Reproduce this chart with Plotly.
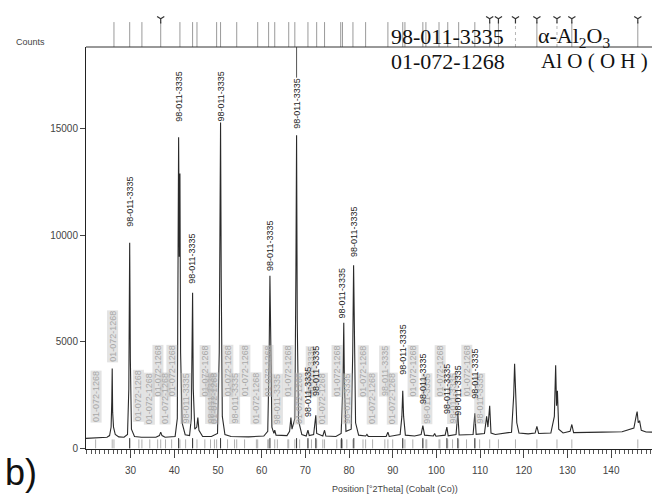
import plotly.graph_objects as go

# ---------------- data ----------------
profile = [
    (19.8, 470), (21.5, 490), (23.5, 500), (24.6, 520), (25.2, 600), (25.55, 1000),
    (25.7, 2200), (25.8, 3750), (25.9, 1700), (26.1, 1000), (26.5, 650), (27.3, 540),
    (28.5, 520), (29.3, 650), (29.6, 2800), (29.8, 9650), (29.95, 4200), (30.2, 900),
    (30.9, 560), (32.5, 520), (35.8, 520), (36.6, 600), (36.9, 760), (37.2, 600),
    (37.9, 520), (40.2, 560), (40.7, 1400), (40.9, 7500), (41.0, 14600), (41.15, 9000),
    (41.3, 12900), (41.45, 4500), (41.8, 1200), (42.5, 640), (43.5, 600), (43.9, 1400),
    (44.1, 5000), (44.2, 7300), (44.35, 2800), (44.7, 900), (45.15, 1000), (45.4, 1450),
    (45.65, 850), (46.5, 560), (48.5, 560), (49.9, 700), (50.3, 4500), (50.45, 9000),
    (50.6, 15300), (50.75, 8000), (51.0, 1500), (51.6, 650), (53.0, 560), (57.0, 540),
    (60.5, 580), (61.4, 800), (61.7, 4000), (61.9, 8100), (62.05, 4300), (62.35, 1000),
    (62.8, 700), (63.0, 850), (63.3, 620), (65.8, 600), (66.4, 800), (66.7, 1450),
    (66.95, 900), (67.6, 1400), (67.85, 8500), (68.0, 14700), (68.15, 6000), (68.45, 1300),
    (69.2, 650), (70.2, 580), (70.6, 850), (70.9, 600), (71.9, 650), (72.25, 1250),
    (72.4, 1550), (72.6, 700), (74.0, 580), (74.4, 850), (74.7, 580), (77.0, 560),
    (78.2, 700), (78.6, 3000), (78.8, 5900), (78.95, 3000), (79.3, 800), (80.5, 900),
    (80.85, 4500), (81.05, 8600), (81.2, 6200), (81.5, 1200), (82.2, 620), (83.8, 580),
    (84.1, 650), (84.4, 560), (88.5, 560), (88.9, 760), (89.2, 560), (91.7, 650),
    (92.1, 1500), (92.3, 2700), (92.5, 1500), (92.9, 620), (95.0, 580), (96.5, 650),
    (96.9, 1070), (97.3, 620), (99.3, 580), (99.6, 700), (99.9, 570), (102.0, 620),
    (102.4, 1000), (102.7, 590), (104.5, 650), (104.9, 1650), (105.2, 630), (108.4, 650),
    (108.8, 1650), (109.1, 660), (111.0, 700), (111.5, 1500), (111.8, 1000), (112.2, 2000),
    (112.5, 720), (113.5, 650), (117.2, 760), (117.7, 2500), (117.9, 3970), (118.1, 2400),
    (118.4, 1200), (118.9, 720), (121.0, 680), (122.6, 720), (123.0, 1030), (123.4, 700),
    (126.2, 720), (127.0, 1500), (127.3, 3900), (127.5, 2000), (127.7, 2700), (128.0, 900),
    (129.0, 720), (130.6, 800), (131.0, 1120), (131.4, 740), (134.0, 740), (138.0, 760),
    (142.5, 780), (145.2, 950), (145.8, 1600), (145.95, 1730), (146.2, 1200), (146.5, 1300),
    (146.9, 850), (148.0, 770), (149.35, 760),
]
two_theta = [p[0] for p in profile]
counts = [p[1] for p in profile]

# reference-pattern sticks in the top strip
ref_sticks = [26.2, 29.8, 32.6, 36.9, 41.3, 44.2, 45.2, 49.7, 50.6, 54.3, 59.1, 61.6,
              63.0, 66.2, 67.6, 70.6, 72.6, 74.4, 78.1, 78.5, 80.9, 83.8, 88.9, 92.3,
              92.8, 96.9, 97.6, 100.6, 102.6, 105.1, 108.8, 112.2, 114.2, 123.0, 131.0,
              146.1]
ref_dashed = [118.1, 127.6]
ref_marked = [36.9, 112.2, 114.2, 118.1, 123.0, 127.6, 131.0, 146.1]

# black peak labels (alpha-Al2O3, 98-011-3335): position and label foot (counts)
lab_a_pos = [29.8, 41.0, 44.2, 50.6, 61.9, 68.0, 78.3, 81.1, 92.3, 96.9, 102.4,
             104.9, 108.8, 72.4, 70.6]
lab_a_base = [10340, 15270, 7660, 15270, 8280, 14940, 6030, 8930, 3400, 2030, 1560,
              1480, 2270, 2400, 1420]

# grey labels (mostly 01-072-1268)
lab_g_pos = [22.0, 25.8, 31.9, 34.4, 36.2, 38.0, 39.4, 42.6, 47.0, 48.3, 49.2, 52.2,
             53.8, 56.1, 58.8, 61.4, 63.6, 66.0, 68.7, 71.4, 74.0, 77.2, 79.5, 83.2,
             85.4, 88.2, 90.0, 94.6, 97.8, 100.8, 103.7, 106.9, 109.9]
lab_g_base = [1190, 4000, 1240, 1100, 2400, 1100, 2400, 1100, 2400, 1100, 1100, 2400,
              1100, 2400, 1100, 2400, 1100, 2400, 1100, 2400, 1100, 2400, 1100, 2400,
              1100, 2400, 1100, 2400, 1100, 2400, 1100, 2400, 1100]
lab_g_text = ["01-072-1268", "01-072-1268", "01-072-1268", "01-072-1268", "01-072-1268",
              "01-072-1268", "01-072-1268", "98-011-3335", "01-072-1268", "98-011-3335",
              "01-072-1268", "01-072-1268", "98-011-3335", "01-072-1268", "01-072-1268",
              "01-072-1268", "98-011-3335", "01-072-1268", "01-072-1268", "98-011-3335",
              "01-072-1268", "01-072-1268", "98-011-3335", "01-072-1268", "01-072-1268",
              "98-011-3335", "01-072-1268", "01-072-1268", "98-011-3335", "01-072-1268",
              "98-011-3335", "01-072-1268", "98-011-3335"]

x_ticks = [30, 40, 50, 60, 70, 80, 90, 100, 110, 120, 130, 140]
y_ticks = [0, 5000, 10000, 15000]
marker_line_x = 68.0
marker_line_y = [17400, 18840]

# ---------------- figure ----------------
W, H = 652, 495
ML, MR, MT, MB = 86, 0, 0, 46
PW, PH = W - ML - MR, H - MT - MB
main_top_px = 47
main_dom_top = (PH - main_top_px) / PH


def px_x(p):
    return (p - ML) / PW


def px_y(p):
    return (PH - p) / PH


SANS = "Liberation Sans, Arial, sans-serif"
SERIF = "Liberation Serif, Times New Roman, serif"

fig = go.Figure()

# bottom grey sticks
sx, sy = [], []
for p in ref_sticks + ref_dashed + lab_g_pos:
    sx += [p, p, None]
    sy += [0, 420, None]
fig.add_trace(go.Scatter(x=sx, y=sy, mode="lines", line=dict(color="#b0b0b0", width=1),
                         hoverinfo="skip", showlegend=False))
bx, by = [], []
for p in lab_a_pos:
    bx += [p, p, None]
    by += [0, 480, None]
fig.add_trace(go.Scatter(x=bx, y=by, mode="lines", line=dict(color="#333", width=1),
                         hoverinfo="skip", showlegend=False))

# measured pattern
fig.add_trace(go.Scatter(x=two_theta, y=counts, mode="lines",
                         line=dict(color="#2a2a2a", width=1.1),
                         hoverinfo="skip", showlegend=False))

# thin marker line
fig.add_trace(go.Scatter(x=[marker_line_x, marker_line_x], y=marker_line_y, mode="lines",
                         line=dict(color="#555", width=1), hoverinfo="skip", showlegend=False))

# top strip sticks
tx, ty = [], []
for p in ref_sticks:
    tx += [p, p, None]
    ty += [0, 0.53, None]
fig.add_trace(go.Scatter(x=tx, y=ty, mode="lines", xaxis="x", yaxis="y2",
                         line=dict(color="#9a9a9a", width=1), hoverinfo="skip", showlegend=False))
dx, dy = [], []
for p in ref_dashed:
    dx += [p, p, None]
    dy += [0, 0.53, None]
fig.add_trace(go.Scatter(x=dx, y=dy, mode="lines", xaxis="x", yaxis="y2",
                         line=dict(color="#b5b5b5", width=1, dash="dot"),
                         hoverinfo="skip", showlegend=False))
fig.add_trace(go.Scatter(x=ref_marked, y=[0.6] * len(ref_marked), mode="markers",
                         xaxis="x", yaxis="y2",
                         marker=dict(symbol="y-down-open", size=6, color="#333",
                                     line=dict(color="#333", width=1.2)),
                         hoverinfo="skip", showlegend=False))

annotations = []
for p, b, t in zip(lab_g_pos, lab_g_base, lab_g_text):
    annotations.append(dict(x=p, y=b, xref="x", yref="y", text=t, showarrow=False,
                            textangle=-90, xanchor="center", yanchor="bottom",
                            font=dict(family=SANS, size=9, color="#a8a8a8"),
                            bgcolor="rgba(185,185,185,0.4)", borderpad=0))
for p, b in zip(lab_a_pos, lab_a_base):
    annotations.append(dict(x=p, y=b, xref="x", yref="y", text="98-011-3335",
                            showarrow=False, textangle=-90, xanchor="center",
                            yanchor="bottom", font=dict(family=SANS, size=9, color="#222"),
                            borderpad=0))


def paper_text(xp, yp, text, font, xanchor="center"):
    return dict(x=px_x(xp), y=px_y(yp), xref="paper", yref="paper", text=text,
                showarrow=False, xanchor=xanchor, yanchor="middle", font=font)


annotations += [
    paper_text(30, 42, "Counts", dict(family=SANS, size=9, color="#444")),
    paper_text(3, 472, "b)", dict(family=SANS, size=36, color="#111"), "left"),
    paper_text(395, 489, "Position [°2Theta] (Cobalt (Co))",
               dict(family=SANS, size=9, color="#444")),
    paper_text(389, 37, "98-011-3335", dict(family=SERIF, size=22, color="#111"), "left"),
    paper_text(536, 37, "α-Al<sub>2</sub>O<sub>3</sub>",
               dict(family=SERIF, size=22, color="#111"), "left"),
    paper_text(389, 61, "01-072-1268", dict(family=SERIF, size=22, color="#111"), "left"),
    paper_text(539, 61, "Al O ( O H )", dict(family=SERIF, size=21, color="#111"), "left"),
]

fig.update_layout(
    width=W, height=H,
    margin=dict(l=ML, r=MR, t=MT, b=MB),
    paper_bgcolor="white", plot_bgcolor="white",
    showlegend=False,
    xaxis=dict(range=[19.8, 149.35], domain=[0, 1], anchor="y",
               showline=True, linecolor="#222", linewidth=1, mirror=False,
               showgrid=False, zeroline=False,
               tickmode="array", tickvals=x_ticks, ticks="outside", ticklen=8,
               tickcolor="#444", tickwidth=1, ticklabelstandoff=4,
               tickfont=dict(family=SANS, size=10, color="#444"),
               minor=dict(dtick=1, tick0=20, ticks="outside", ticklen=4,
                          tickcolor="#555", tickwidth=1, showgrid=False)),
    yaxis=dict(range=[-30, 18840], domain=[0, main_dom_top], anchor="x",
               showline=True, linecolor="#222", linewidth=1,
               showgrid=False, zeroline=False,
               tickmode="array", tickvals=y_ticks, tickformat="d",
               ticks="outside", ticklen=5, tickcolor="#444",
               tickfont=dict(family=SANS, size=10, color="#444")),
    yaxis2=dict(range=[0, 1], domain=[main_dom_top, 1], anchor="x", visible=False),
    annotations=annotations,
    shapes=[dict(type="line", xref="paper", yref="paper", x0=0, x1=1,
                 y0=main_dom_top, y1=main_dom_top, line=dict(color="#333", width=1))],
)

fig.write_html("out.html",
               config={"displayModeBar": False, "staticPlot": True},
               post_script="document.body.style.margin='0px';"
                           "document.body.style.overflow='hidden';")
